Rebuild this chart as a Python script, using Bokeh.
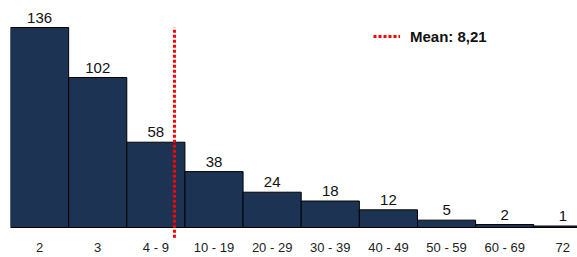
from bokeh.plotting import figure
from bokeh.models import Range1d, LinearAxis, FixedTicker, Legend, LegendItem, ColumnDataSource
from bokeh.core.properties import value
from bokeh.embed import file_html
from bokeh.resources import INLINE

categories = ["2", "3", "4 - 9", "10 - 19", "20 - 29", "30 - 39", "40 - 49", "50 - 59", "60 - 69", "72"]
counts = [136, 102, 58, 38, 24, 18, 12, 5, 2, 1]
mean_label = "Mean: 8,21"
mean_pos = 2.82  # position of mean line on the category axis

xs = [i + 0.5 for i in range(len(categories))]
src = ColumnDataSource(dict(x=xs, top=counts, label=[str(c) for c in counts]))

p = figure(width=577, height=257, output_backend="svg", toolbar_location=None,
           x_range=Range1d(0, 9.752), y_range=Range1d(-20.4, 154.36),
           x_axis_location=None, y_axis_location=None,
           min_border_left=10, min_border_right=0, min_border_top=0, min_border_bottom=0)
p.outline_line_color = None
p.xgrid.visible = False
p.ygrid.visible = False
p.background_fill_color = "white"

p.vbar(x="x", top="top", bottom=0, width=1.0, source=src,
       fill_color="#1c3353", line_color="#000000", line_width=1)

p.text(x="x", y="top", text="label", source=src, text_align="center",
       text_baseline="bottom", y_offset=-5, text_font_size="15px",
       text_font=value("Liberation Sans"), text_color="#111111")

mean_r = p.segment(x0=[mean_pos], x1=[mean_pos], y0=[-7], y1=[max(counts)],
                   line_color="#ff0000", line_width=3, line_dash="3 2")

ax = LinearAxis(fixed_location=0, ticker=FixedTicker(ticks=xs),
                major_label_overrides={x: c for x, c in zip(xs, categories)})
ax.axis_line_color = None
ax.major_tick_line_color = None
ax.minor_tick_line_color = None
ax.major_tick_in = 0
ax.major_tick_out = 0
ax.major_label_standoff = 12
ax.major_label_text_font = "Liberation Sans"
ax.major_label_text_font_size = "13px"
ax.major_label_text_color = "#222222"
p.add_layout(ax, "below")

legend = Legend(items=[LegendItem(label=mean_label, renderers=[mean_r])],
                location=(363, 211), orientation="horizontal",
                border_line_color=None, background_fill_alpha=0,
                padding=0, margin=0, glyph_width=27, glyph_height=20,
                label_standoff=10, label_text_font="Liberation Sans",
                label_text_font_size="15px", label_text_font_style="bold",
                label_text_color="#111111")
p.add_layout(legend, "center")

open("out.html", "w").write(file_html(p, INLINE))
